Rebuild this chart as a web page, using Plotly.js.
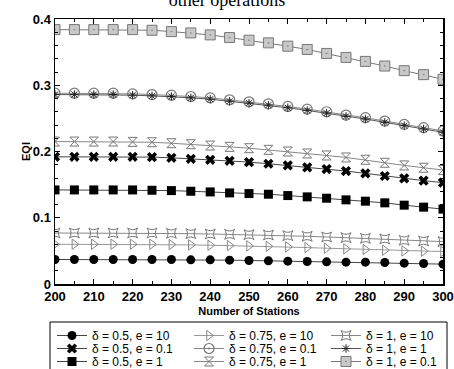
<!DOCTYPE html>
<html>
<head>
<meta charset="utf-8">
<script src="https://cdn.plot.ly/plotly-3.0.1.min.js"></script>
<style>html,body{margin:0;padding:0;background:#fff;}#chart{width:454px;height:369px;}</style>
</head>
<body>
<div id="chart"></div>
<script>
const stations = [200,205,210,215,220,225,230,235,240,245,250,255,260,265,270,275,280,285,290,295,300];

const d05_e10  = [0.037,0.037,0.037,0.037,0.037,0.037,0.037,0.0365,0.0365,0.036,0.0355,0.035,0.0345,0.034,0.0335,0.033,0.033,0.0325,0.0315,0.031,0.030];
const d075_e10 = [0.060,0.060,0.060,0.060,0.060,0.060,0.0595,0.059,0.0585,0.058,0.0575,0.057,0.056,0.055,0.054,0.053,0.052,0.051,0.050,0.0495,0.049];
const d1_e10   = [0.077,0.077,0.077,0.077,0.077,0.077,0.0765,0.076,0.0755,0.075,0.0745,0.074,0.073,0.072,0.071,0.070,0.069,0.068,0.066,0.065,0.064];
const d05_e01  = [0.192,0.192,0.192,0.192,0.192,0.1915,0.1905,0.189,0.1875,0.186,0.184,0.1815,0.179,0.176,0.1735,0.1705,0.167,0.163,0.1595,0.156,0.153];
const d075_e01 = [0.288,0.288,0.288,0.288,0.287,0.286,0.285,0.283,0.281,0.278,0.275,0.272,0.268,0.264,0.260,0.255,0.251,0.246,0.241,0.236,0.231];
const d1_e1    = [0.286,0.286,0.286,0.286,0.285,0.284,0.283,0.281,0.279,0.276,0.273,0.270,0.266,0.262,0.258,0.253,0.249,0.244,0.239,0.234,0.229];
const d05_e1   = [0.142,0.142,0.142,0.142,0.142,0.1415,0.141,0.140,0.139,0.1375,0.1365,0.1355,0.1335,0.1315,0.1295,0.127,0.125,0.1225,0.119,0.116,0.113];
const d075_e1  = [0.215,0.215,0.215,0.215,0.2145,0.214,0.2125,0.211,0.209,0.207,0.205,0.2025,0.200,0.197,0.194,0.191,0.1875,0.183,0.179,0.1755,0.172];
const d1_e01   = [0.384,0.384,0.384,0.384,0.384,0.383,0.381,0.379,0.376,0.372,0.368,0.364,0.359,0.354,0.348,0.342,0.336,0.329,0.322,0.316,0.309];

const seriesNames = ['δ = 0.5, e = 10','δ = 0.75, e = 10','δ = 1, e = 10',
                     'δ = 0.5, e = 0.1','δ = 0.75, e = 0.1','δ = 1, e = 1',
                     'δ = 0.5, e = 1','δ = 0.75, e = 1','δ = 1, e = 0.1'];
const seriesData = [d05_e10, d075_e10, d1_e10, d05_e01, d075_e01, d1_e1, d05_e1, d075_e1, d1_e01];
const legendRow = ['legend','legend','legend','legend2','legend2','legend2','legend3','legend3','legend3'];

const styles = [
  {line:'#444', marker:{symbol:'circle', size:9, color:'#000'}},
  {line:'#999', marker:{symbol:'triangle-right-open', size:9, color:'#888', line:{width:1, color:'#888'}}},
  {line:'#888', marker:{symbol:'star-square-open', size:9, color:'#777', line:{width:1, color:'#777'}}},
  {line:'#444', marker:{symbol:'x', size:9, color:'#000'}},
  {line:'#888', marker:{symbol:'circle-open-dot', size:10, color:'#777', line:{width:1.2, color:'#888'}}},
  {line:'#555', marker:{symbol:'asterisk-open', size:7, color:'#222', line:{width:1, color:'#222'}}},
  {line:'#444', marker:{symbol:'square', size:9, color:'#000'}},
  {line:'#888', marker:{symbol:'hourglass-open', size:9, color:'#777', line:{width:1, color:'#777'}}},
  {line:'#777', marker:{symbol:'square-dot', size:10, color:'#c8c8c8', line:{width:1, color:'#777'}}}
];

const traces = seriesNames.map((n,i)=>({
  x: stations, y: seriesData[i], name: n, type:'scatter', mode:'lines+markers',
  legend: legendRow[i],
  line:{color:styles[i].line, width:1}, marker:styles[i].marker
}));

const plotTop = 19, plotBottom = 284, plotH = plotBottom - plotTop;
const plotL = 55, plotW = 388;
function pyPaper(px){ return (plotBottom - px) / plotH; }
function pxPaper(px){ return (px - plotL) / plotW; }

const legFont = {family:'Liberation Sans, Arial, sans-serif', size:12, color:'#000'};
function leg(topPx){
  return {orientation:'h', x:pxPaper(52), xanchor:'left', y:pyPaper(topPx), yanchor:'top',
          entrywidth:92, entrywidthmode:'pixels', borderwidth:0, bgcolor:'rgba(0,0,0,0)',
          font:legFont, itemwidth:30};
}

const tickFont = {family:'Liberation Sans, Arial, sans-serif', size:13, color:'#000', weight:'bold'};
const layout = {
  width:454, height:369,
  margin:{l:55, r:11, t:19, b:85, autoexpand:false},
  paper_bgcolor:'#fff', plot_bgcolor:'#fff',
  showlegend:true,
  title:{text:'other operations', font:{family:'Liberation Serif, Times New Roman, serif', size:18, color:'#000'},
         x:0.5, xanchor:'center', yref:'container', y:1.0, yanchor:'middle'},
  xaxis:{range:[200,300], dtick:10, tick0:200, showgrid:false, zeroline:false, automargin:true,
         showline:true, linecolor:'#000', linewidth:1.5, mirror:'allticks',
         ticks:'inside', ticklen:5, tickcolor:'#000',
         minor:{dtick:5, ticks:'inside', ticklen:3, tickcolor:'#000', showgrid:false},
         tickfont:tickFont,
         title:{text:'Number of Stations', font:{family:'Liberation Sans, Arial, sans-serif', size:11, color:'#000', weight:'bold'}, standoff:4}},
  yaxis:{range:[0,0.4], dtick:0.1, showgrid:false, zeroline:false, automargin:true,
         showline:true, linecolor:'#000', linewidth:1.5, mirror:'allticks',
         ticks:'inside', ticklen:5, tickcolor:'#000',
         minor:{dtick:0.02, ticks:'inside', ticklen:3, tickcolor:'#000', showgrid:false},
         tickfont:tickFont,
         title:{text:'EQI', font:{family:'Liberation Sans, Arial, sans-serif', size:11, color:'#000', weight:'bold'}, standoff:0}},
  legend: leg(321),
  legend2: leg(334),
  legend3: leg(347),
  shapes:[{type:'rect', xref:'paper', yref:'paper', x0:pxPaper(50), x1:pxPaper(447), y0:pyPaper(322), y1:pyPaper(400),
           line:{color:'#000', width:1}, fillcolor:'rgba(0,0,0,0)', layer:'above'}]
};

Plotly.newPlot('chart', traces, layout, {displayModeBar:false, staticPlot:true});
</script>
</body>
</html>
